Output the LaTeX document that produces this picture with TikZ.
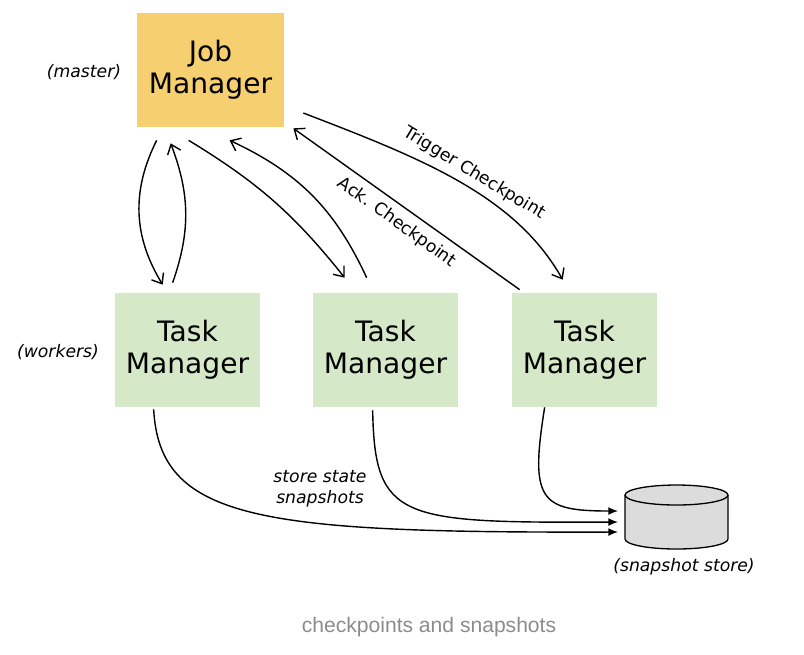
\documentclass[tikz,border=0pt]{standalone}
\usepackage{fontspec}
\setmainfont{DejaVu Sans}
\newfontfamily\captionfont{Liberation Sans}
\usetikzlibrary{arrows.meta,calc}
\definecolor{jobyellow}{HTML}{F6CF70}
\definecolor{taskgreen}{HTML}{D5E8C8}
\definecolor{storegray}{HTML}{DCDCDC}

\begin{document}
\begin{tikzpicture}[x=0.02cm,y=-0.02cm,
  manager/.style={minimum width=2.9cm,minimum height=2.28cm,inner sep=0pt,align=center,font=\fontsize{16}{18}\selectfont},
  msg/.style={line width=0.8pt,-{Straight Barb[length=5pt,width=8pt]}},
  save/.style={line width=0.8pt,-{Latex[length=5.5pt,width=4.5pt]}},
  note/.style={font=\fontsize{9.8}{12}\selectfont\itshape}]
\useasboundingbox (0,0) rectangle (804,654);
\node[manager,fill=jobyellow,minimum width=2.94cm] (jm) at (210.5,70) {Job\\Manager};
\node[manager,fill=taskgreen] (tm1) at (187.5,350) {Task\\Manager};
\node[manager,fill=taskgreen] (tm2) at (385.5,350) {Task\\Manager};
\node[manager,fill=taskgreen] (tm3) at (584.5,350) {Task\\Manager};
\node[note] (master) at (84,72) {(master)};
\node[note] (workers) at (58,352) {(workers)};
\coordinate (store) at (676.5,517);
\draw[fill=storegray,line width=0.75pt] ($(store)+(-51.5,-22)$) -- ($(store)+(-51.5,22)$) arc[start angle=180,end angle=360,x radius=1.03cm,y radius=0.2cm] -- ($(store)+(51.5,-22)$);
\draw[fill=storegray,line width=0.75pt] ($(store)+(0,-22)$) ellipse[x radius=1.03cm,y radius=0.2cm];
\node[note] (storelabel) at (684,567) {(snapshot store)};
\node[note,align=center] (statelabel) at (320,489) {store state\\snapshots};
\node[font=\captionfont\fontsize{12}{14}\selectfont,text=black!45] (caption) at (429,627) {checkpoints and snapshots};
\draw[msg] ($(jm.south west)+(20,13)$) to[bend right=29] ($(tm1.north west)+(48,-8)$);
\draw[msg] ($(tm1.north west)+(58,-10)$) to[bend right=20] ($(jm.south west)+(34,16)$);
\draw[msg] ($(jm.south west)+(52,13)$) to[bend left=10] ($(tm2.north west)+(32,-15)$);
\draw[msg] ($(tm2.north west)+(54,-15)$) to[bend right=20] ($(jm.south west)+(93,13)$);
\draw[msg] ($(tm3.north west)+(8,-3)$) -- node[pos=0.5,sloped,below=1pt,font=\fontsize{9.8}{12}\selectfont] {Ack. Checkpoint} ($(jm.south east)+(9,1)$);
\draw[msg] ($(jm.east)+(19,43)$) .. controls +(117,45) and +(-48,-85) .. node[pos=0.53,sloped,above,font=\fontsize{9.8}{12}\selectfont] {Trigger Checkpoint} ($(tm3.north west)+(51,-13)$);
\draw[save] ($(tm1.south west)+(39,2)$) .. controls +(6,111) and +(-358,1) .. ($(store)+(-58.5,15)$);
\draw[save] ($(tm2.south west)+(60,3)$) .. controls +(2,110) and +(-218,1) .. ($(store)+(-58.5,5)$);
\draw[save] ($(tm3.south west)+(33,0)$) .. controls +(-15,93) and +(-78,0) .. ($(store)+(-58.5,-6)$);
\end{tikzpicture}
\end{document}
